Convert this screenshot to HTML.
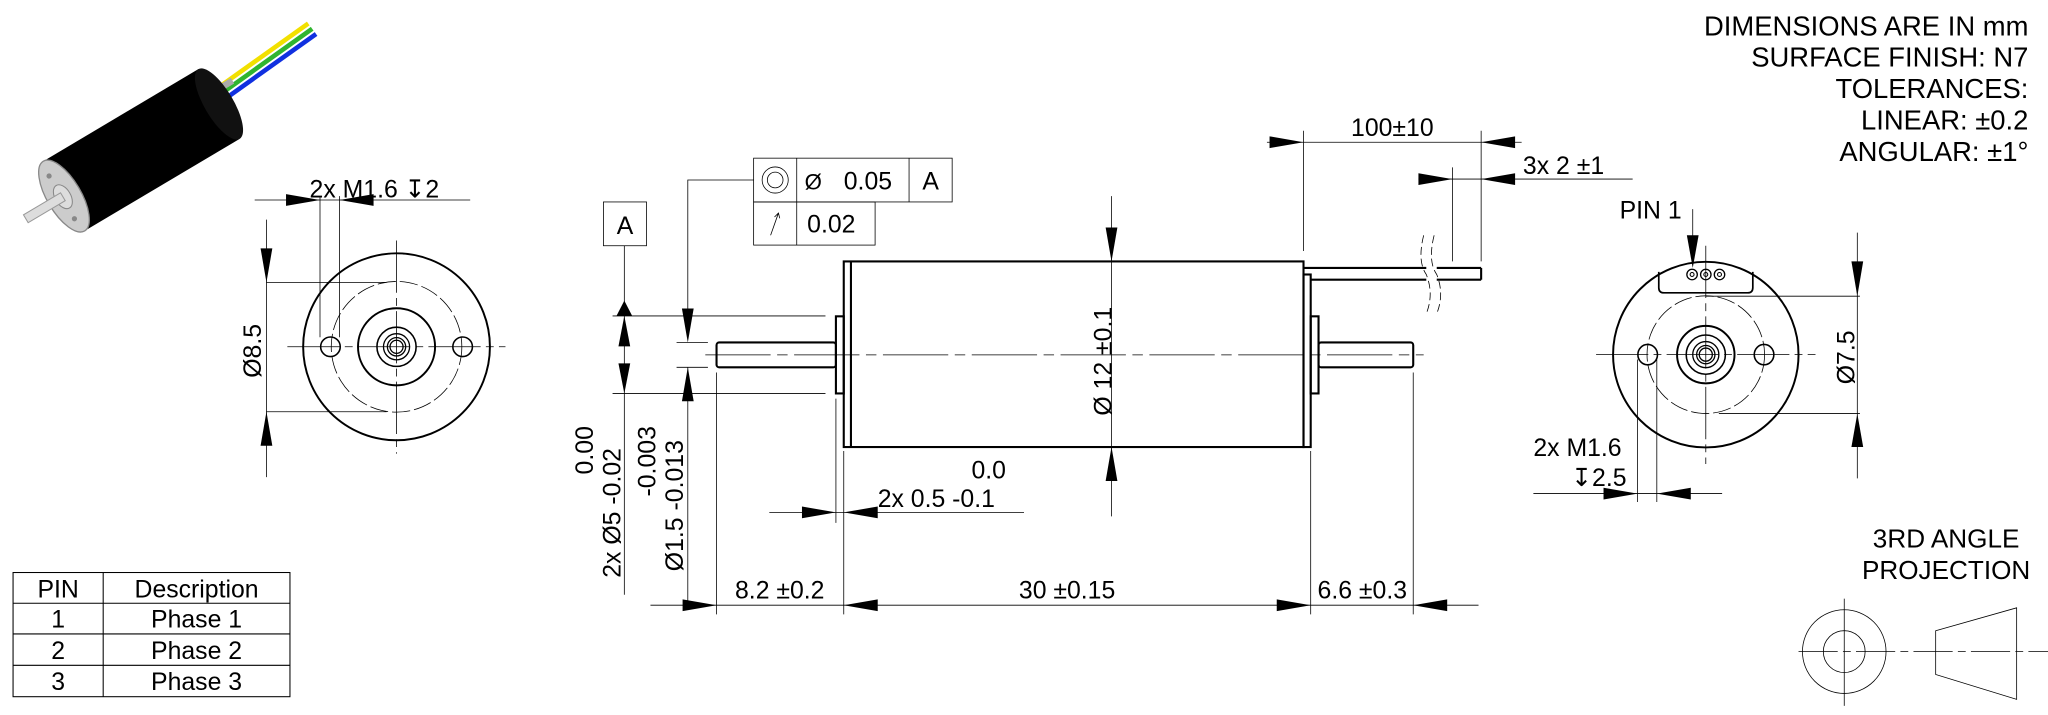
<!DOCTYPE html>
<html><head><meta charset="utf-8"><style>
html,body{margin:0;padding:0;background:#fff;}
svg{display:block}
text{font-family:"Liberation Sans","DejaVu Sans",sans-serif;fill:#000}
</style></head><body>
<svg width="2048" height="715" viewBox="0 0 1568 547" preserveAspectRatio="none" xmlns="http://www.w3.org/2000/svg">
<rect width="1568" height="547" fill="#fff"/>
<!-- 3D motor -->
<g>
 <line x1="163" y1="70" x2="236" y2="18" stroke="#f2e000" stroke-width="3.5"/>
 <line x1="166" y1="74" x2="239" y2="22" stroke="#2fb52f" stroke-width="3.5"/>
 <line x1="169" y1="78" x2="242" y2="26" stroke="#1030e0" stroke-width="3.5"/>
 <g transform="translate(49,150) rotate(-30.7)">
  <line x1="138" y1="-10" x2="156" y2="-10" stroke="#aaa" stroke-width="5"/>
  <rect x="0" y="-31" width="138" height="62" fill="#000"/>
  <ellipse cx="138" cy="0" rx="11" ry="31" fill="#111"/>
  <ellipse cx="0" cy="0" rx="13" ry="31" fill="#ccc" stroke="#888" stroke-width="1"/>
  <ellipse cx="-1" cy="0" rx="6" ry="10" fill="#ddd" stroke="#888" stroke-width="0.8"/>
  <circle cx="-2" cy="-19" r="2" fill="#888"/><circle cx="-2" cy="19" r="2" fill="#888"/>
  <rect x="-34" y="-3.5" width="33" height="7" fill="#ddd" stroke="#999" stroke-width="0.8"/>
 </g>
</g>
<g stroke="#000" fill="none">
 <!-- left end view -->
 <circle cx="303.6" cy="265.3" r="71.5" stroke-width="1.5"/>
 <circle cx="303.6" cy="265.3" r="50" stroke-width="0.6" stroke-dasharray="14,3"/>
 <circle cx="303.6" cy="265.3" r="29.5" stroke-width="1.5"/>
 <circle cx="303.6" cy="265.3" r="15" stroke-width="1.2"/>
 <circle cx="303.6" cy="265.3" r="10" stroke-width="1"/>
 <circle cx="303.6" cy="265.3" r="7" stroke-width="1"/>
 <circle cx="303.6" cy="265.3" r="5" stroke-width="1"/>
 <circle cx="253" cy="265.3" r="7.5" stroke-width="1.2"/>
 <circle cx="354.2" cy="265.3" r="7.5" stroke-width="1.2"/>
 <line x1="220" y1="265.3" x2="387" y2="265.3" stroke-width="0.6" stroke-dasharray="40,4,6,4"/>
 <line x1="303.6" y1="184" x2="303.6" y2="347" stroke-width="0.6" stroke-dasharray="40,4,6,4"/>
 <g stroke-width="0.6">
  <line x1="195" y1="153" x2="360" y2="153"/>
  <line x1="245" y1="150" x2="245" y2="258"/>
  <line x1="260" y1="150" x2="260" y2="258"/>
  <line x1="204" y1="168" x2="204" y2="365"/>
  <line x1="204" y1="216" x2="296" y2="216"/>
  <line x1="204" y1="315" x2="296" y2="315"/>
 </g>
 <!-- table -->
 <g stroke-width="0.8">
  <rect x="10" y="438" width="212" height="95"/>
  <line x1="10" y1="461.5" x2="222" y2="461.5"/>
  <line x1="10" y1="485" x2="222" y2="485"/>
  <line x1="10" y1="509" x2="222" y2="509"/>
  <line x1="79" y1="438" x2="79" y2="533"/>
 </g>
 <!-- side view -->
 <g stroke-width="1.6">
  <rect x="646" y="200" width="352" height="142"/>
  <line x1="651.5" y1="200" x2="651.5" y2="342"/>
  <rect x="998" y="210" width="5.5" height="132"/>
  <rect x="640" y="242" width="6" height="59"/>
  <rect x="1003.5" y="242" width="6" height="59"/>
  <rect x="548.6" y="262" width="91.4" height="19" rx="2"/>
  <rect x="1009.5" y="262" width="72.5" height="19" rx="2"/>
  <line x1="998" y1="205" x2="1092" y2="205"/>
  <line x1="1003.5" y1="214" x2="1092" y2="214"/>
  <line x1="1100" y1="205" x2="1134" y2="205"/>
  <line x1="1100" y1="214" x2="1134" y2="214"/>
  <line x1="1134" y1="205" x2="1134" y2="214"/>
 </g>
 <path d="M1090 180 Q1085 200 1092 210 Q1098 225 1092 240 M1098 180 Q1093 200 1100 210 Q1106 225 1100 240" stroke-width="0.6" stroke-dasharray="6,3"/>
 <line x1="540" y1="271.5" x2="1090" y2="271.5" stroke-width="0.6" stroke-dasharray="50,5,8,5"/>
 <g stroke-width="0.6">
  <rect x="577" y="121" width="152" height="33.5"/>
  <rect x="577" y="154.5" width="93" height="33"/>
  <line x1="610" y1="121" x2="610" y2="187.5"/>
  <line x1="696" y1="121" x2="696" y2="154.5"/>
  <circle cx="593.5" cy="137.7" r="10"/><circle cx="593.5" cy="137.7" r="6"/>
  <line x1="590" y1="180" x2="596" y2="163"/>
  <polyline points="593,166 596,163 597,167"/>
  <polyline points="577,137.7 526.6,137.7 526.6,236"/>
  <rect x="462" y="154.5" width="33" height="33.5"/>
  <line x1="478" y1="188" x2="478" y2="231"/>
  <line x1="478" y1="241" x2="478" y2="455"/>
  <line x1="469" y1="241.7" x2="632" y2="241.7"/>
  <line x1="469" y1="301" x2="632" y2="301"/>
  <line x1="526.6" y1="281" x2="526.6" y2="463"/>
  <line x1="518" y1="262" x2="542" y2="262"/>
  <line x1="518" y1="281" x2="542" y2="281"/>
  <line x1="851" y1="150" x2="851" y2="395"/>
  <line x1="498" y1="463" x2="1132" y2="463"/>
  <line x1="548.6" y1="285" x2="548.6" y2="470"/>
  <line x1="646" y1="345" x2="646" y2="470"/>
  <line x1="640" y1="305" x2="640" y2="400"/>
  <line x1="1003.5" y1="345" x2="1003.5" y2="470"/>
  <line x1="1082" y1="285" x2="1082" y2="470"/>
  <line x1="589" y1="392" x2="784" y2="392"/>
  <line x1="970" y1="108.8" x2="1165" y2="108.8"/>
  <line x1="998" y1="100" x2="998" y2="192"/>
  <line x1="1134" y1="100" x2="1134" y2="200"/>
  <line x1="1086" y1="137" x2="1250" y2="137"/>
  <line x1="1112" y1="128" x2="1112" y2="200"/>
 </g>
 <!-- right end view -->
 <circle cx="1306" cy="271.3" r="71" stroke-width="1.5"/>
 <circle cx="1306" cy="271.3" r="45" stroke-width="0.6" stroke-dasharray="14,3"/>
 <circle cx="1306" cy="271.3" r="22" stroke-width="1.5"/>
 <circle cx="1306" cy="271.3" r="15" stroke-width="1.2"/>
 <circle cx="1306" cy="271.3" r="10" stroke-width="1"/>
 <circle cx="1306" cy="271.3" r="7" stroke-width="1"/>
 <circle cx="1306" cy="271.3" r="5" stroke-width="1"/>
 <ellipse cx="1261.5" cy="271.3" rx="7.5" ry="7.8" stroke-width="1.2"/>
 <ellipse cx="1350.6" cy="271.3" rx="7.5" ry="7.8" stroke-width="1.2"/>
 <path d="M1270 208 L1270 220 Q1270 224 1274 224 L1338 224 Q1342 224 1342 220 L1342 208" stroke-width="1.3"/>
 <circle cx="1295.5" cy="210" r="4" stroke-width="1"/><circle cx="1295.5" cy="210" r="1.5" stroke-width="0.8"/>
 <circle cx="1306" cy="210" r="4" stroke-width="1"/><circle cx="1306" cy="210" r="1.5" stroke-width="0.8"/>
 <circle cx="1316.5" cy="210" r="4" stroke-width="1"/><circle cx="1316.5" cy="210" r="1.5" stroke-width="0.8"/>
 <line x1="1222" y1="271.3" x2="1390" y2="271.3" stroke-width="0.6" stroke-dasharray="40,4,6,4"/>
 <line x1="1306" y1="188" x2="1306" y2="355" stroke-width="0.6" stroke-dasharray="40,4,6,4"/>
 <g stroke-width="0.6">
  <line x1="1296" y1="160" x2="1296" y2="185"/>
  <line x1="1422" y1="178" x2="1422" y2="366"/>
  <line x1="1306" y1="226.6" x2="1424" y2="226.6"/>
  <line x1="1316" y1="316.4" x2="1424" y2="316.4"/>
  <line x1="1174" y1="377.6" x2="1318.5" y2="377.6"/>
  <line x1="1253.7" y1="275" x2="1253.7" y2="384"/>
  <line x1="1268.5" y1="275" x2="1268.5" y2="384"/>
 </g>
 <g stroke-width="0.6">
  <circle cx="1412" cy="498.5" r="32"/>
  <circle cx="1412" cy="498.5" r="16"/>
  <line x1="1377" y1="498.5" x2="1568" y2="498.5" stroke-dasharray="30,4,6,4"/>
  <line x1="1412" y1="458" x2="1412" y2="540"/>
  <polygon points="1482,482.5 1544,465 1544,535 1482,516"/>
 </g>
</g>
<g fill="#000">
 <polygon points="245,153 219,148.5 219,157.5"/>
 <polygon points="260,153 286,148.5 286,157.5"/>
 <polygon points="204,216 199.5,190 208.5,190"/>
 <polygon points="204,315 199.5,341 208.5,341"/>
 <polygon points="478,230 472,241.7 484,241.7"/>
 <polygon points="478,241.7 473.5,265 482.5,265"/>
 <polygon points="478,301 473.5,278 482.5,278"/>
 <polygon points="526.6,262 522.1,236 531.1,236"/>
 <polygon points="526.6,281 522.1,307 531.1,307"/>
 <polygon points="851,200 846.5,174 855.5,174"/>
 <polygon points="851,342 846.5,368 855.5,368"/>
 <polygon points="548.6,463 522.6,458.5 522.6,467.5"/>
 <polygon points="646,463 672,458.5 672,467.5"/>
 <polygon points="1003.5,463 977.5,458.5 977.5,467.5"/>
 <polygon points="1082,463 1108,458.5 1108,467.5"/>
 <polygon points="640,392 614,387.5 614,396.5"/>
 <polygon points="646,392 672,387.5 672,396.5"/>
 <polygon points="998,108.8 972,104.3 972,113.3"/>
 <polygon points="1134,108.8 1160,104.3 1160,113.3"/>
 <polygon points="1112,137 1086,132.5 1086,141.5"/>
 <polygon points="1134,137 1160,132.5 1160,141.5"/>
 <polygon points="1296,205 1291.5,180 1300.5,180"/>
 <polygon points="1422,226.6 1417.5,200 1426.5,200"/>
 <polygon points="1422,316.4 1417.5,342 1426.5,342"/>
 <polygon points="1253.7,377.6 1227.7,373.1 1227.7,382.1"/>
 <polygon points="1268.5,377.6 1294.5,373.1 1294.5,382.1"/>
</g>
<g font-size="19">
 <text x="237" y="151">2x M1.6 ↧2</text>
 <text transform="translate(200,289) rotate(-90)">Ø8.5</text>
 <text x="44.5" y="457" text-anchor="middle">PIN</text>
 <text x="150.5" y="457" text-anchor="middle">Description</text>
 <text x="44.5" y="480" text-anchor="middle">1</text>
 <text x="150.5" y="480" text-anchor="middle">Phase 1</text>
 <text x="44.5" y="504" text-anchor="middle">2</text>
 <text x="150.5" y="504" text-anchor="middle">Phase 2</text>
 <text x="44.5" y="528" text-anchor="middle">3</text>
 <text x="150.5" y="528" text-anchor="middle">Phase 3</text>
 <text x="478.5" y="179" text-anchor="middle">A</text>
 <text x="616" y="145" font-size="17">Ø</text>
 <text x="646" y="145">0.05</text>
 <text x="712.5" y="145" text-anchor="middle">A</text>
 <text x="618" y="178">0.02</text>
 <text transform="translate(475,442) rotate(-90)">2x Ø5 -0.02</text>
 <text transform="translate(454,326) rotate(-90)" text-anchor="end">0.00</text>
 <text transform="translate(523,437) rotate(-90)">Ø1.5 -0.013</text>
 <text transform="translate(502,326) rotate(-90)" text-anchor="end">-0.003</text>
 <text transform="translate(851,318) rotate(-90)">Ø 12 ±0.1</text>
 <text x="597" y="458" text-anchor="middle">8.2 ±0.2</text>
 <text x="817" y="458" text-anchor="middle">30 ±0.15</text>
 <text x="1043" y="458" text-anchor="middle">6.6 ±0.3</text>
 <text x="757" y="366" text-anchor="middle">0.0</text>
 <text x="672" y="388">2x 0.5 -0.1</text>
 <text x="1066" y="104" text-anchor="middle">100±10</text>
 <text x="1166" y="133">3x 2 ±1</text>
 <text x="1240" y="167">PIN 1</text>
 <text transform="translate(1420,294) rotate(-90)">Ø7.5</text>
 <text x="1174" y="349">2x M1.6</text>
 <text x="1203" y="372">↧2.5</text>
 <g text-anchor="end" font-size="21">
  <text x="1553" y="27">DIMENSIONS ARE IN mm</text>
  <text x="1553" y="51">SURFACE FINISH: N7</text>
  <text x="1553" y="75">TOLERANCES:</text>
  <text x="1553" y="99">LINEAR:  ±0.2</text>
  <text x="1553" y="123">ANGULAR:  ±1°</text>
 </g>
 <text x="1490" y="419" text-anchor="middle" font-size="20">3RD ANGLE</text>
 <text x="1490" y="443" text-anchor="middle" font-size="20">PROJECTION</text>
</g>
</svg>
</body></html>
